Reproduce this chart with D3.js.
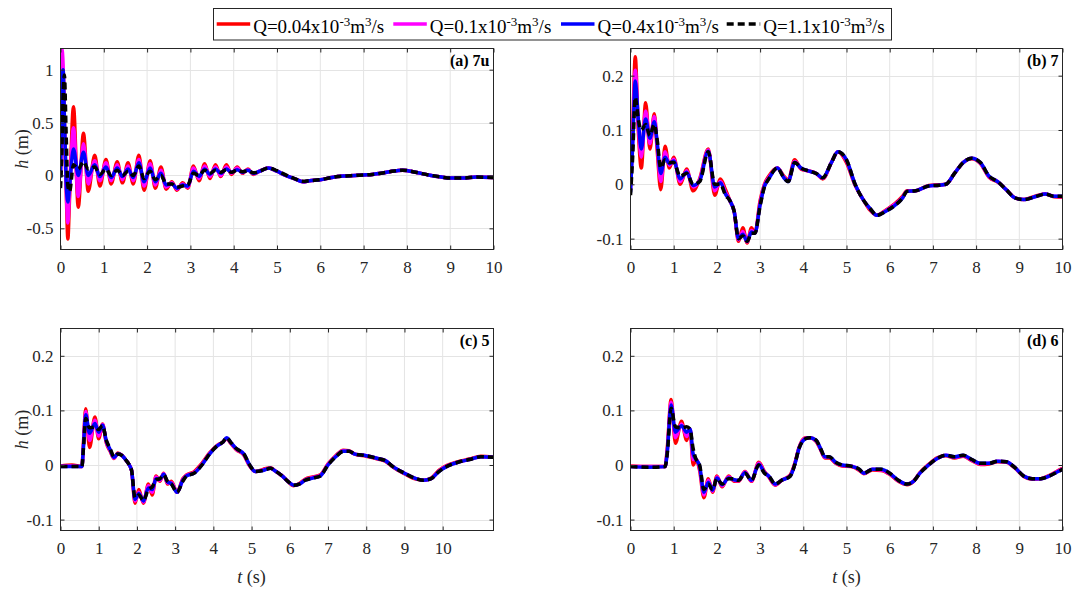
<!DOCTYPE html>
<html>
<head>
<meta charset="utf-8">
<script src="https://cdn.jsdelivr.net/npm/d3@7/dist/d3.min.js"></script>
<style>
	body { margin: 0; background: #ffffff; }
</style>
</head>
<body>
<svg id="viz" width="1085" height="589"></svg>
<script>

// Legend entries (flow rates, x10^-3 m^3/s)
const qValues = ["0.04", "0.1", "0.4", "1.1"];

// Tick values
const xTicks = [0, 1, 2, 3, 4, 5, 6, 7, 8, 9, 10];
const yTicksA = [-0.5, 0, 0.5, 1];
const yTicksB = [-0.1, 0, 0.1, 0.2];

// (a) gauge 7u
const tA = [0, 0.03, 0.06, 0.09, 0.13, 0.17, 0.21, 0.3, 0.41, 0.53,
	0.64, 0.79, 0.91, 1.05, 1.17, 1.31, 1.43, 1.56, 1.68, 1.81,
	1.93, 2.07, 2.19, 2.32, 2.44, 2.57, 2.69, 2.82, 2.94, 3.07,
	3.2, 3.33, 3.45, 3.58, 3.7, 3.83, 3.95, 4.08, 4.2, 4.33,
	4.45, 4.6, 4.8, 5.0, 5.2, 5.4, 5.6, 5.75, 6.0, 6.2,
	6.4, 6.6, 6.8, 7.0, 7.2, 7.4, 7.6, 7.9, 8.2, 8.5,
	8.8, 9.0, 9.3, 9.6, 10];
const redA = [0, 0.75, 1.0, 0.5, -0.1, -0.6, -0.2, 0.65, -0.3, 0.4,
	-0.15, 0.19, -0.1, 0.15, -0.08, 0.13, -0.07, 0.12, -0.08, 0.19,
	-0.14, 0.14, -0.12, 0.08, -0.13, -0.06, -0.14, -0.07, -0.12, 0.09,
	-0.05, 0.11, -0.03, 0.1, -0.01, 0.1, 0.01, 0.08, 0.02, 0.06,
	0.01, 0.04, 0.07, 0.04, 0.0, -0.03, -0.06, -0.05, -0.04, -0.025,
	-0.01, -0.005, 0.0, 0.005, 0.01, 0.02, 0.035, 0.05, 0.03, 0.005,
	-0.015, -0.025, -0.025, -0.015, -0.02];
const magentaA = [0, 1.2, 1.05, 0.45, -0.1, -0.45, -0.15, 0.45, -0.2, 0.3,
	-0.08, 0.14, -0.05, 0.12, -0.05, 0.1, -0.04, 0.09, -0.05, 0.15,
	-0.1, 0.11, -0.09, 0.05, -0.11, -0.07, -0.13, -0.08, -0.11, 0.07,
	-0.03, 0.09, -0.01, 0.08, 0.0, 0.08, 0.02, 0.07, 0.025, 0.055,
	0.015, 0.04, 0.07, 0.04, 0.0, -0.03, -0.06, -0.05, -0.04, -0.025,
	-0.01, -0.005, 0.0, 0.005, 0.01, 0.02, 0.035, 0.05, 0.03, 0.005,
	-0.015, -0.025, -0.025, -0.015, -0.02];
const blueA = [-0.02, 0.7, 1.0, 0.55, -0.05, -0.25, -0.1, 0.25, 0.0, 0.22,
	0.0, 0.1, -0.01, 0.08, -0.02, 0.07, -0.01, 0.06, -0.02, 0.12,
	-0.06, 0.07, -0.06, 0.02, -0.09, -0.08, -0.12, -0.09, -0.1, 0.04,
	-0.01, 0.06, 0.01, 0.06, 0.02, 0.06, 0.03, 0.055, 0.03, 0.05,
	0.02, 0.04, 0.07, 0.04, 0.0, -0.03, -0.06, -0.05, -0.04, -0.025,
	-0.01, -0.005, 0.0, 0.005, 0.01, 0.02, 0.035, 0.05, 0.03, 0.005,
	-0.015, -0.025, -0.025, -0.015, -0.02];
const blackA = [-0.12, 0.2, 0.75, 0.95, 0.4, -0.1, -0.15, 0.1, 0.06, 0.13,
	0.06, 0.08, 0.01, 0.06, 0.0, 0.05, 0.0, 0.04, 0.0, 0.09,
	-0.03, 0.04, -0.04, 0.0, -0.08, -0.08, -0.11, -0.1, -0.09, 0.02,
	0.0, 0.05, 0.02, 0.05, 0.03, 0.055, 0.03, 0.05, 0.035, 0.045,
	0.025, 0.04, 0.07, 0.045, 0.005, -0.03, -0.055, -0.05, -0.04, -0.025,
	-0.01, -0.005, 0.0, 0.005, 0.01, 0.02, 0.035, 0.05, 0.03, 0.005,
	-0.015, -0.025, -0.025, -0.015, -0.02];

// (b) gauge 7
const tB = [0, 0.05, 0.11, 0.18, 0.25, 0.35, 0.45, 0.55, 0.62, 0.7,
	0.8, 0.9, 1.0, 1.15, 1.3, 1.45, 1.6, 1.8, 1.95, 2.08,
	2.2, 2.3, 2.4, 2.5, 2.6, 2.7, 2.8, 2.88, 3.0, 3.1,
	3.2, 3.4, 3.55, 3.65, 3.8, 3.95, 4.1, 4.3, 4.45, 4.65,
	4.8, 5.0, 5.2, 5.4, 5.55, 5.7, 5.9, 6.1, 6.3, 6.4,
	6.6, 6.9, 7.1, 7.3, 7.5, 7.7, 7.9, 8.1, 8.3, 8.5,
	8.7, 8.9, 9.1, 9.4, 9.6, 9.8, 10];
const redB = [0.0, 0.1, 0.235, 0.1, 0.03, 0.15, 0.065, 0.13, 0.06, -0.01,
	0.07, 0.03, 0.05, 0.0, 0.028, -0.012, 0.01, 0.065, -0.02, 0.01,
	-0.01, -0.03, -0.05, -0.105, -0.08, -0.108, -0.08, -0.09, -0.03, 0.0,
	0.015, 0.03, 0.015, 0.008, 0.045, 0.028, 0.025, 0.02, 0.01, 0.04,
	0.06, 0.04, -0.002, -0.03, -0.048, -0.057, -0.048, -0.037, -0.022, -0.012,
	-0.012, -0.002, -0.001, 0.0, 0.02, 0.04, 0.047, 0.038, 0.013, 0.004,
	-0.01, -0.025, -0.028, -0.021, -0.018, -0.023, -0.024];
const magentaB = [-0.01, 0.08, 0.21, 0.11, 0.05, 0.135, 0.075, 0.125, 0.07, 0.005,
	0.06, 0.035, 0.046, 0.005, 0.025, -0.005, 0.008, 0.063, -0.012, 0.005,
	-0.015, -0.03, -0.05, -0.102, -0.087, -0.106, -0.085, -0.09, -0.035, -0.002,
	0.012, 0.03, 0.013, 0.006, 0.042, 0.029, 0.025, 0.02, 0.011, 0.04,
	0.06, 0.043, -0.001, -0.03, -0.046, -0.057, -0.049, -0.038, -0.024, -0.013,
	-0.012, -0.003, -0.002, 0.0, 0.02, 0.04, 0.048, 0.039, 0.014, 0.005,
	-0.01, -0.025, -0.028, -0.022, -0.018, -0.022, -0.023];
const blueB = [-0.015, 0.07, 0.19, 0.12, 0.065, 0.12, 0.085, 0.115, 0.075, 0.02,
	0.05, 0.038, 0.043, 0.01, 0.022, -0.002, 0.006, 0.061, -0.005, 0.003,
	-0.018, -0.03, -0.05, -0.1, -0.092, -0.105, -0.088, -0.09, -0.038, -0.004,
	0.01, 0.03, 0.012, 0.005, 0.04, 0.03, 0.025, 0.02, 0.012, 0.04,
	0.06, 0.045, 0.0, -0.03, -0.045, -0.057, -0.05, -0.04, -0.025, -0.013,
	-0.012, -0.003, -0.002, 0.0, 0.02, 0.04, 0.048, 0.04, 0.015, 0.005,
	-0.01, -0.025, -0.028, -0.022, -0.018, -0.022, -0.022];
const blackB = [-0.02, 0.05, 0.16, 0.12, 0.1, 0.11, 0.09, 0.11, 0.08, 0.03,
	0.045, 0.04, 0.04, 0.015, 0.02, 0.0, 0.005, 0.06, 0.0, 0.0,
	-0.02, -0.03, -0.05, -0.1, -0.095, -0.105, -0.09, -0.09, -0.04, -0.005,
	0.01, 0.03, 0.012, 0.005, 0.04, 0.03, 0.025, 0.02, 0.012, 0.04,
	0.06, 0.045, 0.0, -0.03, -0.045, -0.057, -0.05, -0.04, -0.025, -0.013,
	-0.012, -0.003, -0.002, 0.0, 0.02, 0.04, 0.048, 0.04, 0.015, 0.005,
	-0.01, -0.025, -0.028, -0.022, -0.018, -0.022, -0.022];

// (c) gauge 5
const tC = [0, 0.3, 0.56, 0.6, 0.66, 0.76, 0.9, 1.0, 1.1, 1.2,
	1.3, 1.4, 1.5, 1.6, 1.7, 1.8, 1.86, 1.95, 2.05, 2.17,
	2.3, 2.4, 2.5, 2.6, 2.7, 2.8, 2.9, 3.05, 3.2, 3.3,
	3.5, 3.7, 3.9, 4.1, 4.25, 4.35, 4.45, 4.6, 4.8, 4.95,
	5.1, 5.3, 5.5, 5.6, 5.8, 5.95, 6.1, 6.25, 6.4, 6.6,
	6.8, 7.0, 7.2, 7.4, 7.55, 7.7, 8.0, 8.3, 8.5, 8.7,
	9.0, 9.3, 9.5, 9.7, 9.9, 10.1, 10.4, 10.7, 11.0, 11.33];
const redC = [-0.002, 0.0, -0.003, 0.04, 0.103, 0.032, 0.088, 0.048, 0.075, 0.04,
	0.025, 0.012, 0.022, 0.018, 0.01, 0.0, -0.01, -0.07, -0.045, -0.07,
	-0.035, -0.055, -0.02, -0.03, -0.015, -0.035, -0.03, -0.05, -0.025, -0.018,
	-0.012, 0.003, 0.022, 0.036, 0.042, 0.048, 0.04, 0.028, 0.018, -0.002,
	-0.012, -0.008, -0.005, -0.01, -0.02, -0.03, -0.038, -0.034, -0.026, -0.022,
	-0.018, 0.002, 0.017, 0.027, 0.026, 0.02, 0.016, 0.011, 0.007, -0.004,
	-0.016, -0.026, -0.028, -0.024, -0.01, -0.001, 0.006, 0.011, 0.016, 0.014];
const magentaC = [-0.002, -0.002, -0.003, 0.035, 0.098, 0.045, 0.082, 0.053, 0.074, 0.042,
	0.027, 0.013, 0.021, 0.018, 0.01, 0.0, -0.01, -0.066, -0.05, -0.068,
	-0.038, -0.05, -0.022, -0.028, -0.016, -0.033, -0.032, -0.05, -0.027, -0.019,
	-0.014, 0.001, 0.021, 0.035, 0.042, 0.049, 0.041, 0.029, 0.019, -0.001,
	-0.012, -0.009, -0.006, -0.01, -0.02, -0.03, -0.037, -0.035, -0.027, -0.023,
	-0.019, 0.001, 0.016, 0.026, 0.025, 0.02, 0.017, 0.012, 0.008, -0.003,
	-0.015, -0.025, -0.028, -0.025, -0.011, -0.002, 0.005, 0.01, 0.015, 0.014];
const blueC = [-0.003, -0.003, -0.003, 0.032, 0.092, 0.058, 0.076, 0.06, 0.073, 0.044,
	0.028, 0.014, 0.02, 0.018, 0.01, 0.0, -0.01, -0.063, -0.052, -0.066,
	-0.042, -0.045, -0.025, -0.026, -0.017, -0.031, -0.034, -0.05, -0.028, -0.02,
	-0.015, 0.0, 0.02, 0.035, 0.042, 0.05, 0.042, 0.03, 0.02, 0.0,
	-0.012, -0.01, -0.006, -0.01, -0.02, -0.03, -0.037, -0.035, -0.028, -0.024,
	-0.02, 0.0, 0.015, 0.025, 0.025, 0.02, 0.017, 0.012, 0.008, -0.003,
	-0.015, -0.025, -0.028, -0.025, -0.012, -0.003, 0.005, 0.01, 0.015, 0.014];
const blackC = [-0.003, -0.003, -0.003, 0.03, 0.085, 0.068, 0.07, 0.065, 0.072, 0.045,
	0.03, 0.015, 0.02, 0.018, 0.01, 0.0, -0.01, -0.06, -0.055, -0.065,
	-0.045, -0.04, -0.027, -0.025, -0.018, -0.03, -0.035, -0.05, -0.03, -0.02,
	-0.015, 0.0, 0.02, 0.035, 0.042, 0.05, 0.042, 0.03, 0.02, 0.0,
	-0.012, -0.01, -0.006, -0.01, -0.02, -0.03, -0.037, -0.035, -0.028, -0.024,
	-0.02, 0.0, 0.015, 0.025, 0.025, 0.02, 0.017, 0.012, 0.008, -0.003,
	-0.015, -0.025, -0.028, -0.025, -0.012, -0.003, 0.005, 0.01, 0.015, 0.014];

// (d) gauge 6
const tD = [0, 0.4, 0.8, 0.85, 0.94, 1.04, 1.18, 1.3, 1.38, 1.45,
	1.52, 1.6, 1.7, 1.8, 1.9, 2.0, 2.12, 2.27, 2.4, 2.5,
	2.65, 2.8, 2.97, 3.1, 3.2, 3.35, 3.5, 3.7, 3.8, 3.9,
	4.05, 4.15, 4.3, 4.4, 4.5, 4.6, 4.75, 4.9, 5.1, 5.3,
	5.4, 5.6, 5.8, 6.0, 6.2, 6.4, 6.55, 6.7, 6.9, 7.1,
	7.3, 7.5, 7.7, 7.9, 8.1, 8.3, 8.5, 8.7, 8.9, 9.1,
	9.3, 9.5, 9.7, 9.9, 10];
const redD = [-0.002, -0.003, -0.003, 0.03, 0.12, 0.04, 0.08, 0.045, 0.065, 0.0,
	0.01, -0.01, -0.06, -0.025, -0.05, -0.02, -0.04, -0.02, -0.03, -0.03,
	-0.012, -0.03, 0.005, -0.012, -0.022, -0.037, -0.028, -0.018, 0.002, 0.032,
	0.05, 0.05, 0.043, 0.028, 0.013, 0.013, 0.003, -0.002, -0.003, -0.01,
	-0.016, -0.009, -0.01, -0.017, -0.03, -0.036, -0.03, -0.014, 0.001, 0.013,
	0.017, 0.013, 0.016, 0.008, 0.001, 0.002, 0.006, 0.005, -0.006, -0.021,
	-0.026, -0.025, -0.019, -0.01, -0.006];
const magentaD = [-0.003, -0.003, -0.003, 0.025, 0.115, 0.05, 0.075, 0.052, 0.066, 0.01,
	0.01, -0.005, -0.055, -0.028, -0.048, -0.022, -0.038, -0.022, -0.028, -0.029,
	-0.013, -0.029, 0.003, -0.013, -0.021, -0.036, -0.028, -0.019, 0.001, 0.031,
	0.049, 0.05, 0.044, 0.029, 0.014, 0.014, 0.004, -0.001, -0.002, -0.009,
	-0.015, -0.008, -0.009, -0.016, -0.029, -0.035, -0.03, -0.015, 0.0, 0.012,
	0.018, 0.014, 0.017, 0.009, 0.002, 0.003, 0.007, 0.006, -0.005, -0.02,
	-0.025, -0.025, -0.02, -0.011, -0.007];
const blueD = [-0.003, -0.004, -0.003, 0.022, 0.11, 0.06, 0.072, 0.06, 0.066, 0.02,
	0.01, -0.002, -0.05, -0.032, -0.046, -0.024, -0.036, -0.024, -0.027, -0.028,
	-0.014, -0.028, 0.001, -0.014, -0.02, -0.035, -0.028, -0.02, 0.0, 0.03,
	0.048, 0.05, 0.045, 0.03, 0.015, 0.015, 0.005, 0.0, -0.002, -0.008,
	-0.015, -0.008, -0.008, -0.015, -0.028, -0.035, -0.03, -0.015, 0.0, 0.012,
	0.018, 0.015, 0.018, 0.01, 0.003, 0.003, 0.007, 0.006, -0.005, -0.02,
	-0.025, -0.025, -0.02, -0.012, -0.008];
const blackD = [-0.003, -0.004, -0.003, 0.02, 0.104, 0.07, 0.068, 0.07, 0.065, 0.03,
	0.01, 0.0, -0.045, -0.035, -0.045, -0.025, -0.035, -0.025, -0.025, -0.028,
	-0.015, -0.028, 0.0, -0.015, -0.02, -0.035, -0.028, -0.02, 0.0, 0.03,
	0.048, 0.05, 0.045, 0.03, 0.015, 0.015, 0.005, 0.0, -0.002, -0.008,
	-0.015, -0.008, -0.008, -0.015, -0.028, -0.035, -0.03, -0.015, 0.0, 0.012,
	0.018, 0.015, 0.018, 0.01, 0.003, 0.003, 0.007, 0.006, -0.005, -0.02,
	-0.025, -0.025, -0.02, -0.012, -0.008];


// Styles for the four runs, drawn in this order (black dashed on top)
const lineColors = ["#ff0000", "#ff00ff", "#0000ff", "#000000"];
const lineDash = [null, null, null, "7,4"];
const axisColor = "#262626";
const gridColor = "#e4e4e4";
const serif = "'Liberation Serif'";

// Panel layout in pixels
const cols = [{left: 60.5, right: 493.5}, {left: 630.5, right: 1062.5}];
const rows = [{top: 48.5, bottom: 249.5}, {top: 328.5, bottom: 530.5}];

const panels = [
	{id: "a", label: "(a) 7u", t: tA, runs: [redA, magentaA, blueA, blackA],
		xMax: 10, yDomain: [-0.7, 1.2], yTicks: yTicksA, col: 0, row: 0},
	{id: "b", label: "(b) 7", t: tB, runs: [redB, magentaB, blueB, blackB],
		xMax: 10, yDomain: [-0.12, 0.25], yTicks: yTicksB, col: 1, row: 0},
	{id: "c", label: "(c) 5", t: tC, runs: [redC, magentaC, blueC, blackC],
		xMax: 11.33, yDomain: [-0.12, 0.25], yTicks: yTicksB, col: 0, row: 1},
	{id: "d", label: "(d) 6", t: tD, runs: [redD, magentaD, blueD, blackD],
		xMax: 10, yDomain: [-0.12, 0.25], yTicks: yTicksB, col: 1, row: 1}
];

let svg = d3.select("body").select("svg#viz");
svg.style("font-family", serif);

let drawPanel = function(p) {
	let c = cols[p.col];
	let r = rows[p.row];

	let x = d3.scaleLinear().domain([0, p.xMax]).range([c.left, c.right]);
	let y = d3.scaleLinear().domain(p.yDomain).range([r.bottom, r.top]);

	let g = svg.append("g").attr("id", "panel-" + p.id);

	// grid first, under everything
	let grid = g.append("g").attr("class", "grid");
	grid.selectAll("line.vx").data(xTicks).enter().append("line")
		.attr("x1", d => x(d)).attr("x2", d => x(d))
		.attr("y1", r.top).attr("y2", r.bottom)
		.attr("stroke", gridColor).attr("stroke-width", 1);
	grid.selectAll("line.hy").data(p.yTicks).enter().append("line")
		.attr("x1", c.left).attr("x2", c.right)
		.attr("y1", d => Math.round(y(d)) + 0.5).attr("y2", d => Math.round(y(d)) + 0.5)
		.attr("stroke", gridColor).attr("stroke-width", 1);

	// clip the curves to the axes box
	g.append("clipPath").attr("id", "clip-" + p.id)
		.append("rect")
		.attr("x", c.left).attr("y", r.top)
		.attr("width", c.right - c.left).attr("height", r.bottom - r.top);

	let line = d3.line()
		.x(d => x(d[0]))
		.y(d => y(d[1]))
		.curve(d3.curveMonotoneX);

	let curves = g.append("g").attr("clip-path", "url(#clip-" + p.id + ")");
	p.runs.forEach(function(vals, i) {
		curves.append("path")
			.datum(p.t.map((t, k) => [t, vals[k]]))
			.attr("d", line)
			.attr("fill", "none")
			.attr("stroke", lineColors[i])
			.attr("stroke-width", 3.5)
			.attr("stroke-linejoin", "round")
			.attr("stroke-dasharray", lineDash[i]);
	});

	// axes, MATLAB style: ticks pointing in, on all four sides
	let xAxis = d3.axisBottom(x).tickValues(xTicks).tickFormat(d => String(d))
		.tickSizeInner(-4).tickSizeOuter(0).tickPadding(11);
	let xTop = d3.axisTop(x).tickValues(xTicks).tickFormat("")
		.tickSizeInner(-4).tickSizeOuter(0);
	let yAxis = d3.axisLeft(y).tickValues(p.yTicks).tickFormat(d => String(d))
		.tickSizeInner(-4).tickSizeOuter(0).tickPadding(7);
	let yRight = d3.axisRight(y).tickValues(p.yTicks).tickFormat("")
		.tickSizeInner(-4).tickSizeOuter(0);

	let gx = g.append("g").attr("transform", `translate(0, ${r.bottom})`).call(xAxis);
	let gt = g.append("g").attr("transform", `translate(0, ${r.top})`).call(xTop);
	let gy = g.append("g").attr("transform", `translate(${c.left}, 0)`).call(yAxis);
	let gr = g.append("g").attr("transform", `translate(${c.right}, 0)`).call(yRight);

	[gx, gt, gy, gr].forEach(function(a) {
		a.select(".domain").remove();
		a.selectAll("line").attr("stroke", axisColor);
		a.attr("font-family", null).attr("font-size", null);
		a.selectAll("text")
			.attr("fill", axisColor)
			.style("font-family", serif)
			.style("font-size", "17px");
	});

	// box
	g.append("rect")
		.attr("x", c.left).attr("y", r.top)
		.attr("width", c.right - c.left).attr("height", r.bottom - r.top)
		.attr("fill", "none").attr("stroke", axisColor).attr("stroke-width", 1);

	// panel label, top right
	g.append("text")
		.attr("x", c.right - 4).attr("y", r.top + 17)
		.attr("text-anchor", "end")
		.style("font-family", serif)
		.style("font-size", "16px").style("font-weight", "bold")
		.attr("fill", "#000")
		.text(p.label);

	// y title on the left column
	if (p.col == 0) {
		let yTitle = g.append("text")
			.attr("text-anchor", "middle")
			.attr("transform", `translate(22, ${(r.top + r.bottom) / 2}) rotate(-90)`)
			.attr("dy", "0.35em")
			.style("font-family", serif)
			.style("font-size", "18px")
			.attr("fill", axisColor);
		yTitle.append("tspan").style("font-style", "italic").text("h");
		yTitle.append("tspan").text(" (m)");
	}

	// x title on the bottom row, centred on t = 5
	if (p.row == 1) {
		let xTitle = g.append("text")
			.attr("text-anchor", "middle")
			.attr("x", x(5)).attr("y", 583)
			.style("font-family", serif)
			.style("font-size", "18px")
			.attr("fill", axisColor);
		xTitle.append("tspan").style("font-style", "italic").text("t");
		xTitle.append("tspan").text(" (s)");
	}
};

panels.forEach(drawPanel);


// Legend across the top
let drawLegend = function() {
	const box = {x: 213.5, y: 8.5, w: 678, h: 31.5};
	const itemX = [216.7, 393.3, 561, 726.7];   // start of each line sample
	const sampleLen = 33.5;

	let lg = svg.append("g").attr("id", "legend");
	lg.append("rect")
		.attr("x", box.x).attr("y", box.y).attr("width", box.w).attr("height", box.h)
		.attr("fill", "#fff").attr("stroke", axisColor).attr("stroke-width", 1);

	let items = lg.selectAll("g.item").data(qValues).enter().append("g")
		.attr("class", "item");

	items.append("line")
		.attr("x1", (d, i) => itemX[i]).attr("x2", (d, i) => itemX[i] + sampleLen)
		.attr("y1", 24).attr("y2", 24)
		.attr("stroke", (d, i) => lineColors[i])
		.attr("stroke-width", 3.5)
		.attr("stroke-dasharray", (d, i) => lineDash[i]);

	let labels = items.append("text")
		.attr("x", (d, i) => itemX[i] + sampleLen + 3)
		.attr("y", 32.5)
		.style("font-family", serif)
		.style("font-size", "19px")
		.attr("fill", "#000");

	labels.append("tspan").text(d => "Q=" + d + "x10");
	labels.append("tspan").attr("dy", -7).style("font-size", "13px").text("-3");
	labels.append("tspan").attr("dy", 7).text("m");
	labels.append("tspan").attr("dy", -7).style("font-size", "13px").text("3");
	labels.append("tspan").attr("dy", 7).text("/s");
};

drawLegend();

</script>
</body>
</html>
